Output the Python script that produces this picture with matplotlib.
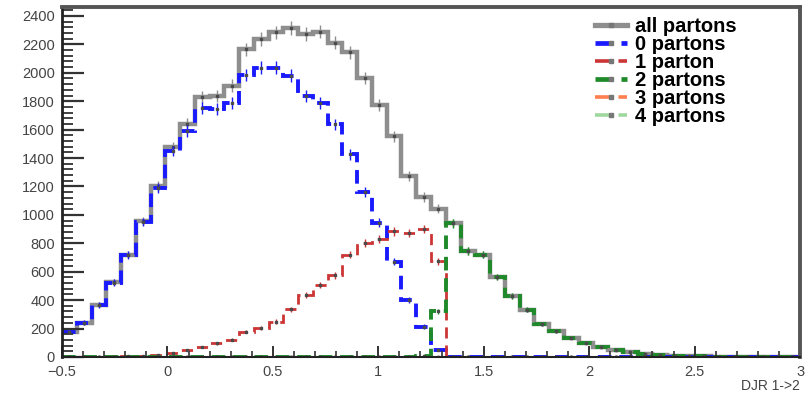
import matplotlib.pyplot as plt
import numpy as np
from matplotlib.lines import Line2D
from matplotlib.ticker import MultipleLocator

plt.rcParams['font.family'] = ['Liberation Sans', 'DejaVu Sans']

# 50 bins of DJR 1->2 between -0.5 and 3
edges = np.linspace(-0.5, 3.0, 51)

n0 = [179, 242, 367, 524, 716, 950, 1190, 1450, 1590, 1755,
      1743, 1790, 1985, 2035, 2035, 1980, 1836, 1785, 1637, 1425,
      1160, 945, 670, 400, 214, 50, 3, 0, 0, 0,
      0, 0, 0, 0, 0, 0, 0, 0, 0, 0,
      0, 0, 0, 0, 0, 0, 0, 0, 0, 0]
n1 = [0, 0, 1, 2, 4, 7, 13, 25, 50, 72,
      96, 120, 179, 202, 249, 335, 435, 505, 575, 720,
      802, 830, 884, 873, 901, 672, 0, 0, 0, 0,
      0, 0, 0, 0, 0, 0, 0, 0, 0, 0,
      0, 0, 0, 0, 0, 0, 0, 0, 0, 0]
n2 = [0, 0, 0, 0, 0, 0, 0, 0, 0, 0,
      0, 0, 0, 0, 0, 0, 0, 0, 0, 0,
      0, 0, 0, 0, 10, 320, 940, 745, 720, 562,
      426, 332, 232, 182, 135, 100, 72, 50, 35, 24,
      16, 10, 7, 4, 3, 2, 1, 1, 0, 0]
n3 = [0] * 50
n4 = [0] * 50

labels = ['all partons', '0 partons', '1 parton', '2 partons', '3 partons', '4 partons']
colors = ['#8e8e8e', '#1a1aff', '#cc3535', '#1f8a2a', '#ff7f50', '#9fd89f']

parts = [np.array(n, dtype=float) for n in (n0, n1, n2, n3, n4)]
total = np.sum(parts, axis=0)
hists = [total] + parts
centers = 0.5 * (edges[:-1] + edges[1:])

fig = plt.figure(figsize=(8.06, 3.94), dpi=100)
ax = fig.add_axes([0.0769, 0.094, 0.9157, 0.889])

styles = [dict(lw=3.2, ls='-'),
          dict(lw=2.8, ls=(0, (3.5, 2))),
          dict(lw=2.0, ls=(0, (4, 2.5))),
          dict(lw=2.8, ls=(0, (3.5, 2))),
          dict(lw=2.0, ls=(0, (4, 2.5))),
          dict(lw=2.0, ls=(0, (4, 2.5)))]

for h, c, st in zip(hists, colors, styles):
    ax.stairs(h, edges, color=c, baseline=None, **st)
    ax.errorbar(centers, h, yerr=np.sqrt(h), fmt='none', ecolor=c, elinewidth=1.0)
    ax.plot(centers, h, ls='none', marker='s', ms=1.8, color='#4a4a4a')

ax.set_xlim(-0.5, 3.0)
ax.set_ylim(0, 2465)

ax.xaxis.set_minor_locator(MultipleLocator(0.1))
ax.yaxis.set_minor_locator(MultipleLocator(40))
ax.set_yticks(np.arange(0, 2401, 200))
ax.set_xticks(np.arange(-0.5, 3.01, 0.5))
ax.set_xticklabels(['\u22120.5', '0', '0.5', '1', '1.5', '2', '2.5', '3'])

ax.tick_params(axis='y', which='major', direction='in', length=16, width=1.6,
               color='#333333', labelsize=10.5, labelcolor='#444444', pad=5)
ax.tick_params(axis='y', which='minor', direction='in', length=8, width=1.3,
               color='#333333')
ax.tick_params(axis='x', which='major', direction='in', length=8, width=1.4,
               color='#333333', labelsize=10.5, labelcolor='#444444', pad=5.5)
ax.tick_params(axis='x', which='minor', direction='in', length=4, width=1.2,
               color='#333333')
for t in ax.get_yticklabels():
    t.set_verticalalignment('center_baseline')

for side in ('top', 'right'):
    ax.spines[side].set_linewidth(2.8)
    ax.spines[side].set_color('#555555')
ax.spines['left'].set_linewidth(2.0)
ax.spines['left'].set_color('#222222')
ax.spines['bottom'].set_linewidth(1.5)
ax.spines['bottom'].set_color('#222222')

ax.set_xlabel('DJR 1->2', loc='right', fontsize=10, color='#444444', labelpad=0)

handles = []
for c, st in zip(colors, styles):
    handles.append(Line2D([], [], color=c, lw=st['lw'] + 0.6, ls=st['ls'],
                          marker='s', ms=3, mfc='#777777', mec='#777777'))
leg = ax.legend(handles, labels, loc='upper left',
                bbox_to_anchor=(595 / 806, 1 - 17 / 394),
                bbox_transform=fig.transFigure, frameon=False,
                prop={'size': 14.5, 'weight': 'bold'}, labelspacing=-0.05,
                handlelength=1.6, handletextpad=0.4, borderpad=0,
                borderaxespad=0, numpoints=1)

fig.savefig('out.png', dpi=100)
